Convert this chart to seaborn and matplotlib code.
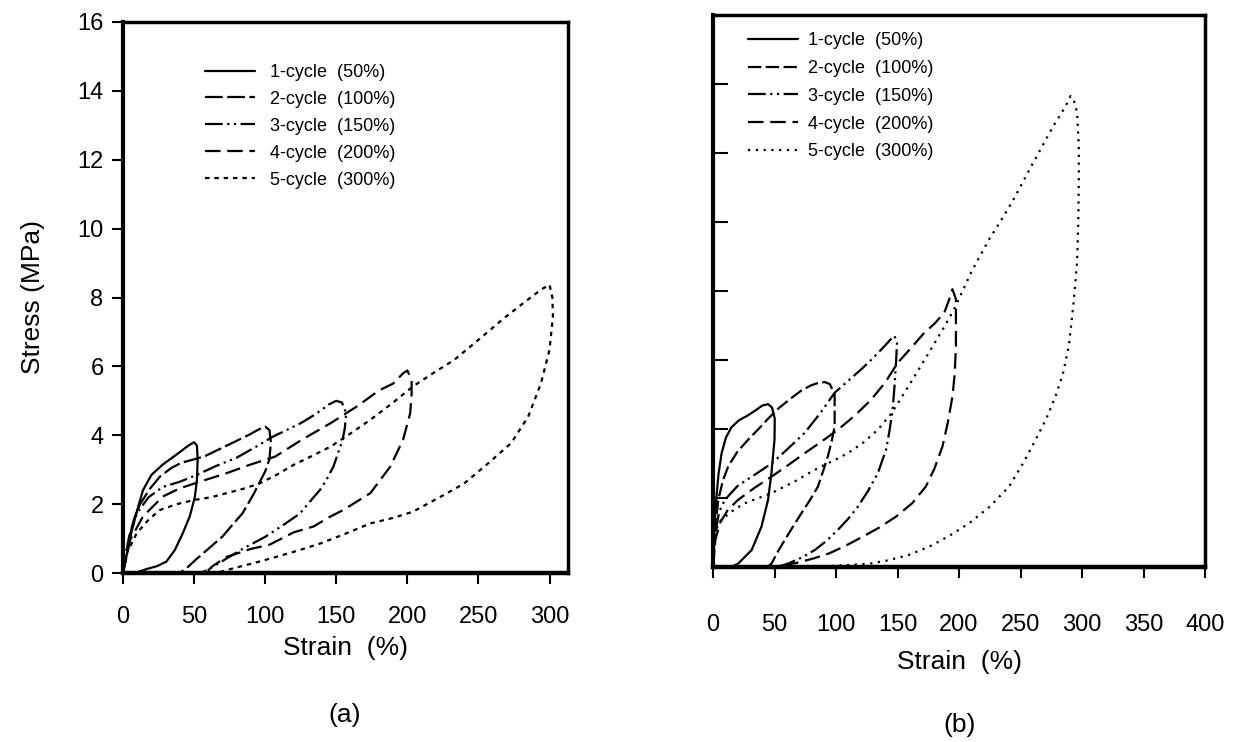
import matplotlib
matplotlib.use("Agg")
import matplotlib.pyplot as plt
import seaborn as sns
import pandas as pd

# ---- panel (a) loops: loading then unloading, strain (%) / stress (MPa)
a1_strain = [0, 2.5, 6, 9.5, 14, 20, 28, 38, 46, 50, 52, 52.5, 52, 50.5, 47, 42, 36.5, 30.5, 24, 17, 12, 9]
a1_stress = [0, 0.5, 1.2, 1.75, 2.4, 2.85, 3.15, 3.45, 3.7, 3.8, 3.7, 3.3, 2.7, 2.2, 1.65, 1.15, 0.67, 0.33, 0.2, 0.12, 0.05, 0]

a2_strain = [0, 4, 8, 12, 19, 26, 34, 41, 50, 58, 68, 78, 88, 96, 100, 103, 104, 103, 100, 92, 84, 77, 70, 60, 51, 45, 40]
a2_stress = [0, 1.0, 1.6, 2.0, 2.45, 2.8, 3.05, 3.2, 3.3, 3.4, 3.6, 3.8, 4.0, 4.18, 4.25, 4.15, 3.8, 3.3, 2.95, 2.3, 1.73, 1.4, 1.06, 0.7, 0.38, 0.15, 0]

a3_strain = [0, 4, 10, 18, 28, 40, 52, 65, 80, 95, 105, 115, 125, 135, 145, 150,
             154, 157, 156, 154.5, 151, 148, 143, 138.5, 131, 124.5, 113, 100, 85, 72, 62, 55]
a3_stress = [0, 1.0, 1.75, 2.2, 2.5, 2.65, 2.85, 3.1, 3.35, 3.7, 3.95, 4.15, 4.35, 4.6, 4.9, 5.0,
             4.95, 4.64, 4.2, 3.87, 3.45, 3.09, 2.7, 2.41, 2.05, 1.73, 1.4, 1.05, 0.72, 0.4, 0.15, 0]

a4_strain = [0, 5, 14, 28, 40, 54, 73, 89, 107, 125, 146, 165, 180, 190, 197, 200,
             203, 203, 202, 197, 188, 174, 155, 145, 134, 120, 103, 90, 73, 63, 58]
a4_stress = [0, 0.96, 1.64, 2.22, 2.46, 2.65, 2.9, 3.14, 3.38, 3.85, 4.35, 4.85, 5.3, 5.5, 5.8, 5.88,
             5.6, 5.2, 4.64, 3.87, 3.09, 2.32, 1.83, 1.62, 1.35, 1.18, 0.82, 0.7, 0.47, 0.2, 0]

a5_strain = [0, 3, 9.6, 18, 26, 38, 50, 62, 73, 85, 96, 108, 120, 133, 146, 160, 174, 190, 204, 218,
             233, 250, 268, 282, 294, 300, 302, 302.4, 300, 294, 285, 273, 257, 240, 228, 216, 204,
             190, 174, 157, 139, 123, 108, 93, 78, 70, 66]
a5_stress = [0, 0.6, 1.15, 1.55, 1.83, 2.0, 2.12, 2.2, 2.32, 2.45, 2.6, 2.85, 3.14, 3.4, 3.67, 4.05, 4.45, 4.95, 5.42, 5.8,
             6.19, 6.77, 7.4, 7.85, 8.23, 8.37, 8.0, 7.45, 6.48, 5.51, 4.54, 3.77, 3.19, 2.6, 2.32, 2.05, 1.78,
             1.6, 1.44, 1.15, 0.86, 0.65, 0.47, 0.3, 0.14, 0.05, 0]

# ---- panel (b) loops
b1_strain = [0, 1, 2.5, 4.5, 7, 10.5, 15, 21, 28.6, 35, 40, 44.8, 48, 50.2, 50, 47.5, 44.8, 39.4, 31.4, 20.5, 15]
b1_stress = [0, 1.0, 1.9, 2.7, 3.3, 3.75, 4.05, 4.25, 4.4, 4.55, 4.68, 4.72, 4.62, 4.3, 3.69, 2.72, 1.95, 1.17, 0.49, 0.1, 0]

b2_strain = [0, 1.5, 4.3, 8, 12.4, 20, 28.6, 37, 44.8, 54, 63.8, 72, 80, 86, 91, 95,
             98.9, 98.9, 96.5, 93.4, 89.5, 85.3, 79, 71.9, 65, 58.3, 52, 47.6, 44]
b2_stress = [0, 1.0, 1.95, 2.5, 2.92, 3.35, 3.69, 4.0, 4.3, 4.62, 4.9, 5.12, 5.27, 5.34, 5.36, 5.3,
             5.0, 4.08, 3.65, 3.21, 2.78, 2.33, 1.95, 1.56, 1.17, 0.78, 0.4, 0.1, 0]

b3_strain = [0, 2, 5, 9.7, 20, 35, 47.6, 60, 74.6, 87, 98.9, 110, 120.5, 130, 139.4, 145, 147.5,
             149.6, 148.8, 147.5, 146, 143.5, 140.7, 134, 126, 117.8, 110, 101.6, 92, 82.7, 72, 61, 52]
b3_stress = [0, 1.0, 1.6, 1.95, 2.35, 2.7, 3.0, 3.4, 3.89, 4.45, 5.05, 5.4, 5.73, 6.05, 6.4, 6.62, 6.7,
             6.5, 5.92, 5.2, 4.56, 3.95, 3.4, 2.72, 2.2, 1.75, 1.4, 1.08, 0.75, 0.49, 0.27, 0.1, 0]

b4_strain = [0, 2, 6, 12, 20.5, 34, 47.6, 61, 74.6, 88, 101.6, 115, 128.6, 140, 150.2, 161, 171.8, 180, 188, 192, 194.7,
             197.5, 197.5, 196.5, 194.7, 191, 186.6, 180, 173, 162, 148.8, 135, 121.8, 108, 94.8, 82, 68, 56, 47]
b4_stress = [0, 0.8, 1.3, 1.65, 1.95, 2.3, 2.62, 2.95, 3.3, 3.63, 3.98, 4.38, 4.85, 5.35, 5.92, 6.35, 6.79, 7.05, 7.37, 7.75, 8.05,
             7.76, 6.4, 5.6, 4.95, 4.2, 3.5, 2.85, 2.33, 1.85, 1.46, 1.14, 0.88, 0.62, 0.4, 0.25, 0.12, 0.04, 0]

b5_strain = [0, 1.6, 5, 9.7, 18, 26, 37, 47.6, 58, 69.1, 78, 88.1, 99, 109.6, 122, 134, 145, 155.6, 166, 177, 187, 196,
             210, 224.5, 236, 246, 257, 267.7, 277, 283.9, 288, 290.7,
             293.5, 296, 297.4, 297.4, 297, 296, 293, 289.3, 284.5, 278.5, 271, 262.3, 252, 240.7, 225, 208.3,
             192, 175.9, 160, 143.4, 128, 111, 95, 80]
b5_stress = [0, 0.98, 1.3, 1.46, 1.68, 1.85, 2.0, 2.14, 2.33, 2.53, 2.72, 2.92, 3.1, 3.3, 3.6, 3.98, 4.45, 5.05, 5.65, 6.3, 6.9, 7.47,
             8.55, 9.5, 10.15, 10.76, 11.5, 12.2, 12.8, 13.19, 13.45, 13.65,
             13.5, 13.19, 12.2, 11.25, 10.0, 8.83, 7.6, 6.4, 5.6, 4.95, 4.3, 3.69, 3.0, 2.33, 1.75, 1.27,
             0.9, 0.59, 0.36, 0.2, 0.1, 0.06, 0.03, 0]

cycle_labels = ["1-cycle  (50%)", "2-cycle  (100%)", "3-cycle  (150%)", "4-cycle  (200%)", "5-cycle  (300%)"]
x_ticks_a = [0, 50, 100, 150, 200, 250, 300, 350]
x_ticks_b = [0, 50, 100, 150, 200, 250, 300, 350, 400]
y_ticks = [0, 2, 4, 6, 8, 10, 12, 14, 16]


def make_df(strains, stresses):
    parts = []
    for lab, xs, ys in zip(cycle_labels, strains, stresses):
        parts.append(pd.DataFrame({"Strain": xs, "Stress": ys, "cycle": lab}))
    return pd.concat(parts, ignore_index=True)


df_a = make_df([a1_strain, a2_strain, a3_strain, a4_strain, a5_strain],
               [a1_stress, a2_stress, a3_stress, a4_stress, a5_stress])
df_b = make_df([b1_strain, b2_strain, b3_strain, b4_strain, b5_strain],
               [b1_stress, b2_stress, b3_stress, b4_stress, b5_stress])

sns.set_theme(style="white")
plt.rcParams["font.family"] = ["Liberation Sans", "DejaVu Sans"]
plt.rcParams["text.color"] = "black"
plt.rcParams["axes.labelcolor"] = "black"

dashes_a = {cycle_labels[0]: "", cycle_labels[1]: (8, 2), cycle_labels[2]: (8, 2, 1, 2, 1, 2),
            cycle_labels[3]: (7, 3), cycle_labels[4]: (2, 2.2)}
dashes_b = {cycle_labels[0]: "", cycle_labels[1]: (6, 2), cycle_labels[2]: (8, 2, 1, 2, 1, 2),
            cycle_labels[3]: (7, 3), cycle_labels[4]: (1, 2.5)}

fig = plt.figure(figsize=(12.33, 7.42), dpi=100)
ax_a = fig.add_axes([123 / 1233, 1 - 573 / 742, 445 / 1233, 551 / 742])
ax_b = fig.add_axes([713 / 1233, 1 - 567 / 742, 492 / 1233, 552 / 742])

for ax, df, dashes in [(ax_a, df_a, dashes_a), (ax_b, df_b, dashes_b)]:
    sns.lineplot(data=df, x="Strain", y="Stress", style="cycle", dashes=dashes,
                 color="black", sort=False, estimator=None, linewidth=1.6,
                 legend=False, ax=ax)
    for s in ax.spines.values():
        s.set_color("black")
        s.set_linewidth(2.5)
    ax.spines["left"].set_linewidth(3)
    ax.spines["bottom"].set_linewidth(3.2)

# panel (a)
ax_a.set_xticks(x_ticks_a)
ax_a.set_yticks(y_ticks)
ax_a.set_xlim(0, 313)
ax_a.set_ylim(0, 16)
ax_a.tick_params(axis="both", direction="out", length=8, width=1.5, colors="black",
                 labelsize=17, left=True, bottom=True)
ax_a.tick_params(axis="x", pad=16)
ax_a.tick_params(axis="y", pad=6)
ax_a.set_xlabel("Strain  (%)", fontsize=19)
ax_a.set_ylabel("Stress (MPa)", fontsize=19)
ax_a.xaxis.set_label_coords(0.5, -0.115)
ax_a.yaxis.set_label_coords(-0.175, 0.5)
ax_a.legend(handles=ax_a.lines, labels=cycle_labels, loc="upper left",
            bbox_to_anchor=(0.184, 0.924), frameon=False, fontsize=13,
            handlelength=2.8, handletextpad=0.8, labelspacing=0.55,
            borderaxespad=0, borderpad=0)

# panel (b)
ax_b.set_xticks(x_ticks_b)
ax_b.set_yticks(y_ticks[1:-1])
ax_b.set_yticklabels([])
ax_b.set_xlim(0, 400)
ax_b.set_ylim(0, 16)
ax_b.tick_params(axis="x", direction="out", length=8, width=1.5, colors="black",
                 labelsize=17, bottom=True, pad=26)
ax_b.tick_params(axis="y", direction="in", length=11, width=1.5, colors="black", left=True)
ax_b.set_ylabel("")
ax_b.set_xlabel("Strain  (%)", fontsize=19)
ax_b.xaxis.set_label_coords(0.5, -0.15)
ax_b.legend(handles=ax_b.lines, labels=cycle_labels, loc="upper left",
            bbox_to_anchor=(0.071, 0.969), frameon=False, fontsize=13,
            handlelength=2.8, handletextpad=0.55, labelspacing=0.6,
            borderaxespad=0, borderpad=0)

fig.text(345 / 1233, 1 - 715 / 742, "(a)", ha="center", va="center", fontsize=19)
fig.text(960 / 1233, 1 - 725 / 742, "(b)", ha="center", va="center", fontsize=19)

fig.savefig("out.png", dpi=100, facecolor="white")
